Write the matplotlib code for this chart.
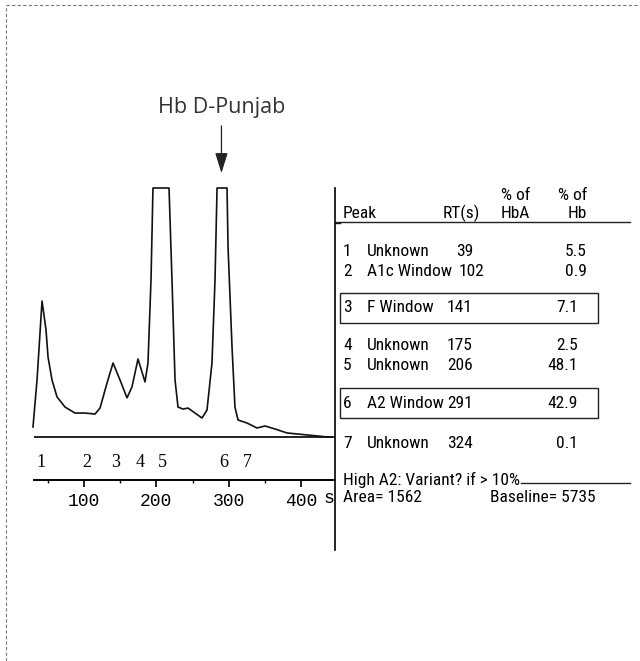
import matplotlib
matplotlib.use("Agg")
import matplotlib.pyplot as plt
from matplotlib import font_manager
from matplotlib.lines import Line2D
from matplotlib.patches import Rectangle

# chromatogram trace (time in s, signal with the clipped tops at 100)
time_s = [29.4, 35.0, 41.9, 47.4, 50.2, 55.7, 62.6, 73.7, 87.5, 101.3, 115.2, 122.1,
          131.8, 140.1, 149.7, 159.4, 166.3, 174.6, 184.3, 188.4, 192.6, 195.3,
          217.5, 221.6, 225.8, 229.9, 236.9, 243.8, 253.4, 263.1, 270.0, 276.9,
          281.1, 283.9, 297.7, 299.1, 304.6, 308.7, 312.9, 325.3, 339.1, 350.2,
          364.0, 380.6, 408.2, 435.9, 442.8]
signal = [4.0, 22.9, 54.6, 43.0, 32.1, 22.9, 16.1, 12.0, 9.6, 9.6, 9.2, 11.6,
          21.7, 29.7, 22.9, 15.7, 20.1, 31.3, 22.1, 29.7, 63.1, 100,
          100, 63.1, 22.9, 12.0, 11.2, 11.6, 9.6, 7.6, 10.8, 29.7,
          63.1, 100, 100, 76.3, 36.1, 12.0, 6.8, 5.6, 3.6, 4.4,
          3.2, 1.6, 0.8, 0.0, 0.0]

# peak table
peak_ids = [1, 2, 3, 4, 5, 6, 7]
peak_names = ["Unknown", "A1c Window", "F Window", "Unknown", "Unknown", "A2 Window", "Unknown"]
peak_rt = [39, 102, 141, 175, 206, 291, 324]
pct_hb = ["5.5", "0.9", "7.1", "2.5", "48.1", "42.9", "0.1"]
boxed_peaks = [3, 6]

major_ticks = [100, 200, 300, 400]
minor_ticks = [50, 150, 250, 350]


def pick_font(names):
    for n in names:
        try:
            font_manager.findfont(font_manager.FontProperties(family=n),
                                  fallback_to_default=False)
            return n
        except ValueError:
            pass
    return None


narrow = pick_font(["Roboto Condensed", "Liberation Sans Narrow", "DejaVu Sans Condensed"])
if narrow:
    table_font, fs = narrow, 12.5
else:
    table_font, fs = "DejaVu Sans Mono", 9.5

W, H = 640, 661
fig = plt.figure(figsize=(6.4, 6.61), dpi=100)
mono = "Liberation Mono"

# --- chromatogram ---
ax = fig.add_axes([34 / W, (H - 480) / H, (335 - 34) / W, (480 - 188) / H])
ax.set_xlim(30.8, 447.0)
ax.set_ylim(-17.3, 100)
ax.plot(time_s, signal, color="#111111", lw=1.2, clip_on=False)
ax.axhline(0, color="#111111", lw=1.3)
for s in ["top", "left", "right"]:
    ax.spines[s].set_visible(False)
ax.spines["bottom"].set_linewidth(1.4)
ax.set_yticks([])
ax.set_xticks(major_ticks)
ax.set_xticks(minor_ticks, minor=True)
ax.tick_params(axis="x", which="major", direction="out", length=5, width=1.2, pad=4)
ax.tick_params(axis="x", which="minor", direction="out", length=2.5, width=1.0)
for lab in ax.get_xticklabels():
    lab.set_fontfamily(mono)
    lab.set_fontsize(13)
ax.text(446, -21.5, "s", fontfamily=mono, fontsize=13, ha="right", va="top")

for pid, rt in zip(peak_ids, peak_rt):
    ax.text(rt + 2, -10.4, str(pid), fontfamily="Liberation Serif", fontsize=13,
            ha="center", va="center")

ax.annotate("Hb D-Punjab", xy=(peak_rt[5] - 1, 106), xytext=(peak_rt[5] - 1, 132.5),
            ha="center", va="center", fontsize=15.5, fontfamily="Open Sans",
            color="#333333", annotation_clip=False,
            arrowprops=dict(arrowstyle="-|>,head_length=0.8,head_width=0.25",
                            color="#222222", lw=0.9, shrinkA=4, shrinkB=0))

# --- peak table (pixel-like coordinates) ---
tx = fig.add_axes([335 / W, (H - 550) / H, (640 - 335) / W, (550 - 188) / H])
tx.set_xlim(335, 640)
tx.set_ylim(550, 188)
tx.set_xticks([])
tx.set_yticks([])
for s in ["top", "right", "bottom"]:
    tx.spines[s].set_visible(False)
tx.spines["left"].set_linewidth(1.2)
tx.patch.set_alpha(0)
tx.plot([335, 340], [223, 223], color="#111111", lw=1.0)

tkw = dict(fontfamily=table_font, fontsize=fs, color="#000000", va="center")
tx.text(343, 213, "Peak", ha="left", **tkw)
tx.text(480, 213, "RT(s)", ha="right", **tkw)
tx.text(530, 195, "% of", ha="right", **tkw)
tx.text(530, 213, "HbA", ha="right", **tkw)
tx.text(587, 195, "% of", ha="right", **tkw)
tx.text(587, 213, "Hb", ha="right", **tkw)
tx.plot([336, 630], [222, 222], color="#222222", lw=1.0)

row_y = [252, 271, 308, 346, 365, 403, 443]
hb_right = [587, 587, 578, 578, 578, 578, 578]
for i, pid in enumerate(peak_ids):
    y = row_y[i]
    tx.text(343, y, str(pid), ha="left", **tkw)
    tx.text(367, y, peak_names[i], ha="left", **tkw)
    rt_x = 484 if len(peak_names[i]) > 9 else 473
    tx.text(rt_x, y, str(peak_rt[i]), ha="right", **tkw)
    tx.text(hb_right[i], y, pct_hb[i], ha="right", **tkw)
    if pid in boxed_peaks:
        tx.add_patch(Rectangle((340, y - 15), 258, 30, fill=False,
                               edgecolor="#222222", lw=1.0))

warn = tx.text(343, 480, "High A2: Variant? if > 10%", ha="left", **tkw)
tx.text(343, 498, "Area= 1562", ha="left", **tkw)
tx.text(490, 498, "Baseline= 5735", ha="left", **tkw)

# rule running on from the end of the warning line
fig.canvas.draw()
bb = warn.get_window_extent()
x_end = tx.transData.inverted().transform((bb.x1, bb.y0))[0]
tx.plot([x_end + 1, 630], [483, 483], color="#222222", lw=1.0)

# dashed frame (top and left only)
fig.add_artist(Line2D([6 / W, 1], [1 - 5 / H, 1 - 5 / H], color="#777777",
                      lw=0.8, ls=(0, (3, 2))))
fig.add_artist(Line2D([6 / W, 6 / W], [0, 1 - 5 / H], color="#777777",
                      lw=0.8, ls=(0, (3, 2))))

fig.savefig("out.png", dpi=100, facecolor="white")
